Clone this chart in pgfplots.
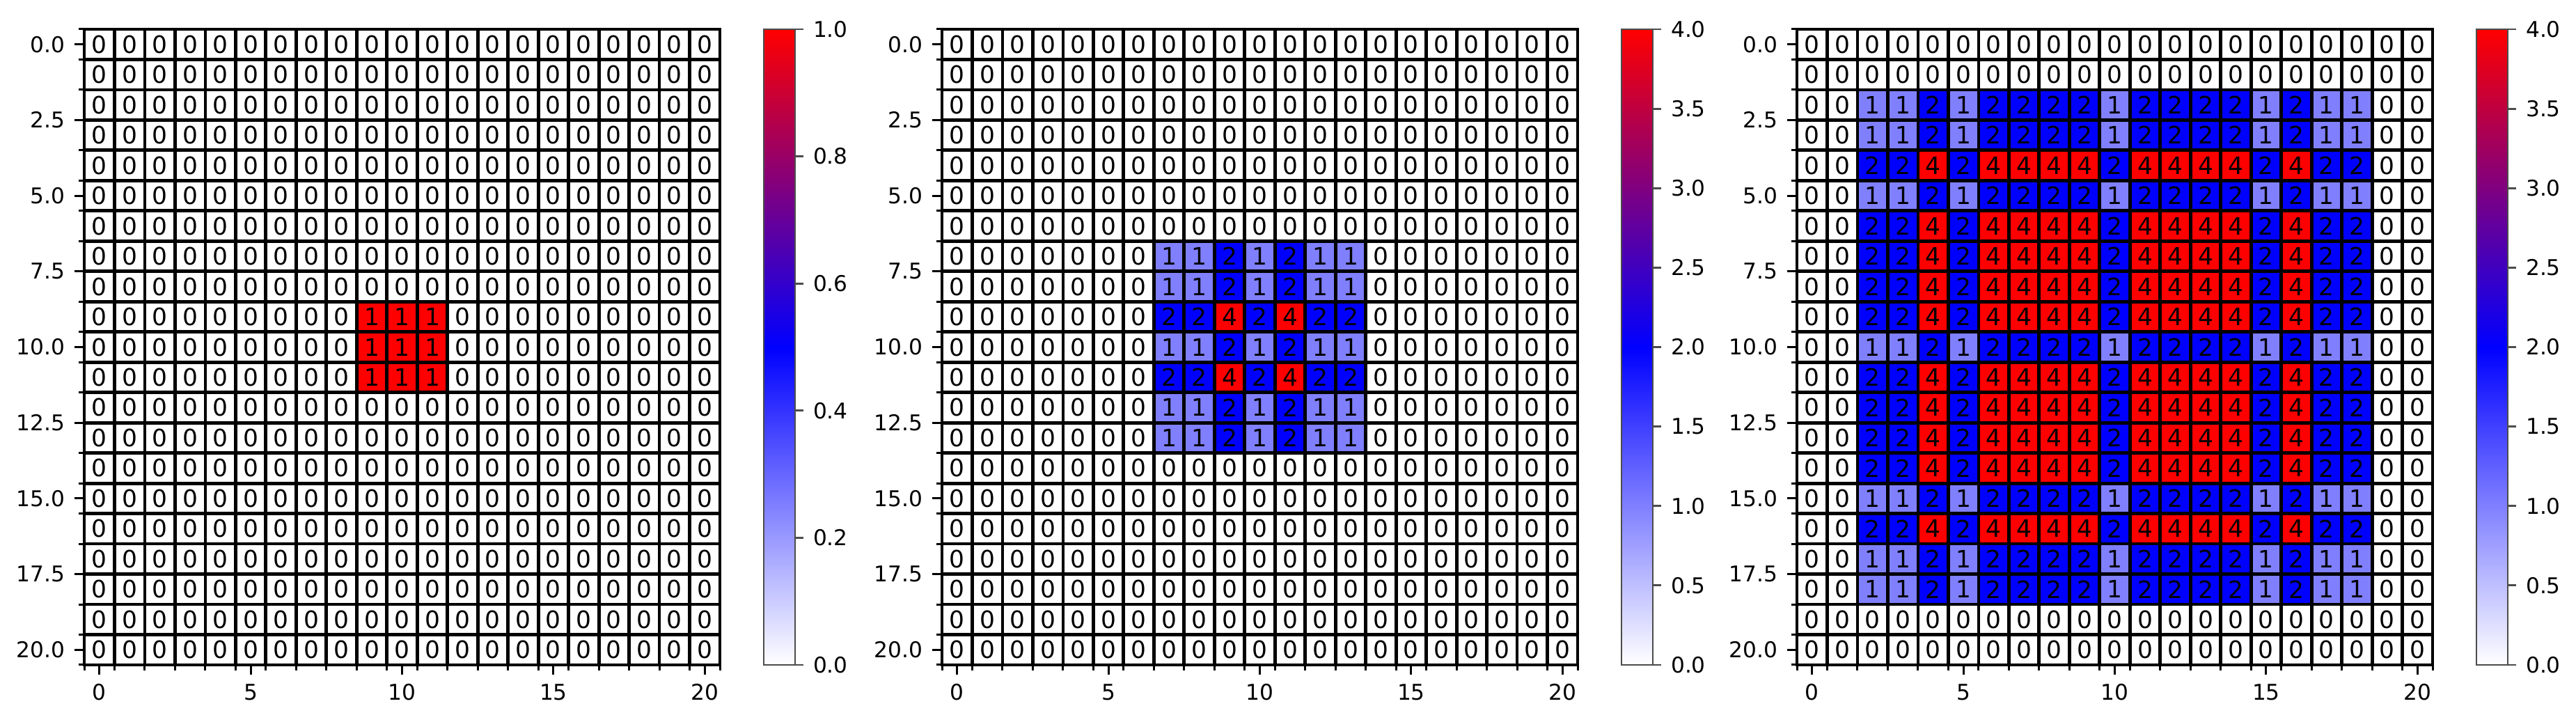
\documentclass[border=0pt]{standalone}
\usepackage{pgfplots}
\usepackage{pgfplotstable}
\pgfplotsset{compat=1.18}
\usepackage{fontspec}
\setmainfont{DejaVu Sans}

% cell values, one line per grid row (row 0 at the top)
\pgfplotstableread[header=false]{
0 0 0 0 0 0 0 0 0 0 0 0 0 0 0 0 0 0 0 0 0
0 0 0 0 0 0 0 0 0 0 0 0 0 0 0 0 0 0 0 0 0
0 0 0 0 0 0 0 0 0 0 0 0 0 0 0 0 0 0 0 0 0
0 0 0 0 0 0 0 0 0 0 0 0 0 0 0 0 0 0 0 0 0
0 0 0 0 0 0 0 0 0 0 0 0 0 0 0 0 0 0 0 0 0
0 0 0 0 0 0 0 0 0 0 0 0 0 0 0 0 0 0 0 0 0
0 0 0 0 0 0 0 0 0 0 0 0 0 0 0 0 0 0 0 0 0
0 0 0 0 0 0 0 0 0 0 0 0 0 0 0 0 0 0 0 0 0
0 0 0 0 0 0 0 0 0 0 0 0 0 0 0 0 0 0 0 0 0
0 0 0 0 0 0 0 0 0 1 1 1 0 0 0 0 0 0 0 0 0
0 0 0 0 0 0 0 0 0 1 1 1 0 0 0 0 0 0 0 0 0
0 0 0 0 0 0 0 0 0 1 1 1 0 0 0 0 0 0 0 0 0
0 0 0 0 0 0 0 0 0 0 0 0 0 0 0 0 0 0 0 0 0
0 0 0 0 0 0 0 0 0 0 0 0 0 0 0 0 0 0 0 0 0
0 0 0 0 0 0 0 0 0 0 0 0 0 0 0 0 0 0 0 0 0
0 0 0 0 0 0 0 0 0 0 0 0 0 0 0 0 0 0 0 0 0
0 0 0 0 0 0 0 0 0 0 0 0 0 0 0 0 0 0 0 0 0
0 0 0 0 0 0 0 0 0 0 0 0 0 0 0 0 0 0 0 0 0
0 0 0 0 0 0 0 0 0 0 0 0 0 0 0 0 0 0 0 0 0
0 0 0 0 0 0 0 0 0 0 0 0 0 0 0 0 0 0 0 0 0
0 0 0 0 0 0 0 0 0 0 0 0 0 0 0 0 0 0 0 0 0
}\gridA

\pgfplotstableread[header=false]{
0 0 0 0 0 0 0 0 0 0 0 0 0 0 0 0 0 0 0 0 0
0 0 0 0 0 0 0 0 0 0 0 0 0 0 0 0 0 0 0 0 0
0 0 0 0 0 0 0 0 0 0 0 0 0 0 0 0 0 0 0 0 0
0 0 0 0 0 0 0 0 0 0 0 0 0 0 0 0 0 0 0 0 0
0 0 0 0 0 0 0 0 0 0 0 0 0 0 0 0 0 0 0 0 0
0 0 0 0 0 0 0 0 0 0 0 0 0 0 0 0 0 0 0 0 0
0 0 0 0 0 0 0 0 0 0 0 0 0 0 0 0 0 0 0 0 0
0 0 0 0 0 0 0 1 1 2 1 2 1 1 0 0 0 0 0 0 0
0 0 0 0 0 0 0 1 1 2 1 2 1 1 0 0 0 0 0 0 0
0 0 0 0 0 0 0 2 2 4 2 4 2 2 0 0 0 0 0 0 0
0 0 0 0 0 0 0 1 1 2 1 2 1 1 0 0 0 0 0 0 0
0 0 0 0 0 0 0 2 2 4 2 4 2 2 0 0 0 0 0 0 0
0 0 0 0 0 0 0 1 1 2 1 2 1 1 0 0 0 0 0 0 0
0 0 0 0 0 0 0 1 1 2 1 2 1 1 0 0 0 0 0 0 0
0 0 0 0 0 0 0 0 0 0 0 0 0 0 0 0 0 0 0 0 0
0 0 0 0 0 0 0 0 0 0 0 0 0 0 0 0 0 0 0 0 0
0 0 0 0 0 0 0 0 0 0 0 0 0 0 0 0 0 0 0 0 0
0 0 0 0 0 0 0 0 0 0 0 0 0 0 0 0 0 0 0 0 0
0 0 0 0 0 0 0 0 0 0 0 0 0 0 0 0 0 0 0 0 0
0 0 0 0 0 0 0 0 0 0 0 0 0 0 0 0 0 0 0 0 0
0 0 0 0 0 0 0 0 0 0 0 0 0 0 0 0 0 0 0 0 0
}\gridB

\pgfplotstableread[header=false]{
0 0 0 0 0 0 0 0 0 0 0 0 0 0 0 0 0 0 0 0 0
0 0 0 0 0 0 0 0 0 0 0 0 0 0 0 0 0 0 0 0 0
0 0 1 1 2 1 2 2 2 2 1 2 2 2 2 1 2 1 1 0 0
0 0 1 1 2 1 2 2 2 2 1 2 2 2 2 1 2 1 1 0 0
0 0 2 2 4 2 4 4 4 4 2 4 4 4 4 2 4 2 2 0 0
0 0 1 1 2 1 2 2 2 2 1 2 2 2 2 1 2 1 1 0 0
0 0 2 2 4 2 4 4 4 4 2 4 4 4 4 2 4 2 2 0 0
0 0 2 2 4 2 4 4 4 4 2 4 4 4 4 2 4 2 2 0 0
0 0 2 2 4 2 4 4 4 4 2 4 4 4 4 2 4 2 2 0 0
0 0 2 2 4 2 4 4 4 4 2 4 4 4 4 2 4 2 2 0 0
0 0 1 1 2 1 2 2 2 2 1 2 2 2 2 1 2 1 1 0 0
0 0 2 2 4 2 4 4 4 4 2 4 4 4 4 2 4 2 2 0 0
0 0 2 2 4 2 4 4 4 4 2 4 4 4 4 2 4 2 2 0 0
0 0 2 2 4 2 4 4 4 4 2 4 4 4 4 2 4 2 2 0 0
0 0 2 2 4 2 4 4 4 4 2 4 4 4 4 2 4 2 2 0 0
0 0 1 1 2 1 2 2 2 2 1 2 2 2 2 1 2 1 1 0 0
0 0 2 2 4 2 4 4 4 4 2 4 4 4 4 2 4 2 2 0 0
0 0 1 1 2 1 2 2 2 2 1 2 2 2 2 1 2 1 1 0 0
0 0 1 1 2 1 2 2 2 2 1 2 2 2 2 1 2 1 1 0 0
0 0 0 0 0 0 0 0 0 0 0 0 0 0 0 0 0 0 0 0 0
0 0 0 0 0 0 0 0 0 0 0 0 0 0 0 0 0 0 0 0 0
}\gridC

\pgfplotsset{
  heatmap/.style={
    width=228.25pt, height=228.25pt, scale only axis,
    anchor=south west,
    set layers, axis on top,
    y dir=reverse,
    xmin=-0.5, xmax=20.5, ymin=-0.5, ymax=20.5,
    xtick={0,5,...,20}, ytick={0,2.5,...,20},
    minor xtick={-0.5,0.5,...,20.5}, minor ytick={-0.5,0.5,...,20.5},
    grid=minor, minor grid style={black, line width=1.2pt},
    tick pos=left, tick align=outside,
    major tick length=3.4pt, minor tick length=2pt,
    every tick/.style={black, line width=0.75pt},
    axis line style={black, line width=1.2pt},
    tick label style={font=\fontsize{7.8}{9}\selectfont},
    /pgf/number format/assume math mode=true,
    yticklabel style={/pgf/number format/fixed, /pgf/number format/fixed zerofill, /pgf/number format/precision=1},
    colormap={wbr}{rgb255=(255,255,255) rgb255=(0,0,255) rgb255=(255,0,0)},
    point meta min=0,
    colorbar,
    colorbar/width=11.25pt,
    colorbar shift/.style={xshift=15.75pt},
    colorbar style={
      at={(parent axis.north east)}, anchor=north west,
      scale only axis,
      y dir=normal, grid=none, minor xtick={}, minor ytick={},
      ytick pos=right, tick align=outside, major tick length=3pt,
      axis line style={draw=black!70, line width=0.7pt},
      every tick/.style={black!70, line width=0.7pt},
      yticklabel style={font=\fontsize{7.8}{9}\selectfont,
        /pgf/number format/assume math mode=true,
        /pgf/number format/fixed, /pgf/number format/fixed zerofill, /pgf/number format/precision=1},
    },
  },
  % coloured squares, one per cell
  cellplot/.style={
    scatter, only marks, mark=square*, mark size=5.35pt,
    scatter/use mapped color={draw=mapped color, fill=mapped color},
    point meta=explicit,
  },
  % the value written in each cell
  celltext/.style={
    only marks, mark=none, point meta=explicit,
    nodes near coords={\pgfmathprintnumber{\pgfplotspointmeta}},
    every node near coord/.append style={anchor=center, text=black, inner sep=0pt,
      font=\fontsize{8.6}{9}\selectfont},
  },
}

\begin{document}
\begin{tikzpicture}
\path (0,0) rectangle (925pt,259.25pt);

\begin{axis}[heatmap, at={(30.25pt,20.5pt)}, point meta max=1,
  colorbar style={ymin=0, ymax=1, ytick={0,0.2,...,1}}]
\pgfplotsinvokeforeach{0,...,20}{
  \addplot[cellplot] table[x expr=#1, y expr=\coordindex, meta index=#1] {\gridA};
}
\pgfplotsinvokeforeach{0,...,20}{
  \addplot[celltext] table[x expr=#1, y expr=\coordindex, meta index=#1] {\gridA};
}
\end{axis}

\begin{axis}[heatmap, at={(338.25pt,20.5pt)}, point meta max=4,
  colorbar style={ymin=0, ymax=4, ytick={0,0.5,...,4}}]
\pgfplotsinvokeforeach{0,...,20}{
  \addplot[cellplot] table[x expr=#1, y expr=\coordindex, meta index=#1] {\gridB};
}
\pgfplotsinvokeforeach{0,...,20}{
  \addplot[celltext] table[x expr=#1, y expr=\coordindex, meta index=#1] {\gridB};
}
\end{axis}

\begin{axis}[heatmap, at={(645.25pt,20.5pt)}, point meta max=4,
  colorbar style={ymin=0, ymax=4, ytick={0,0.5,...,4}}]
\pgfplotsinvokeforeach{0,...,20}{
  \addplot[cellplot] table[x expr=#1, y expr=\coordindex, meta index=#1] {\gridC};
}
\pgfplotsinvokeforeach{0,...,20}{
  \addplot[celltext] table[x expr=#1, y expr=\coordindex, meta index=#1] {\gridC};
}
\end{axis}
\end{tikzpicture}
\end{document}
